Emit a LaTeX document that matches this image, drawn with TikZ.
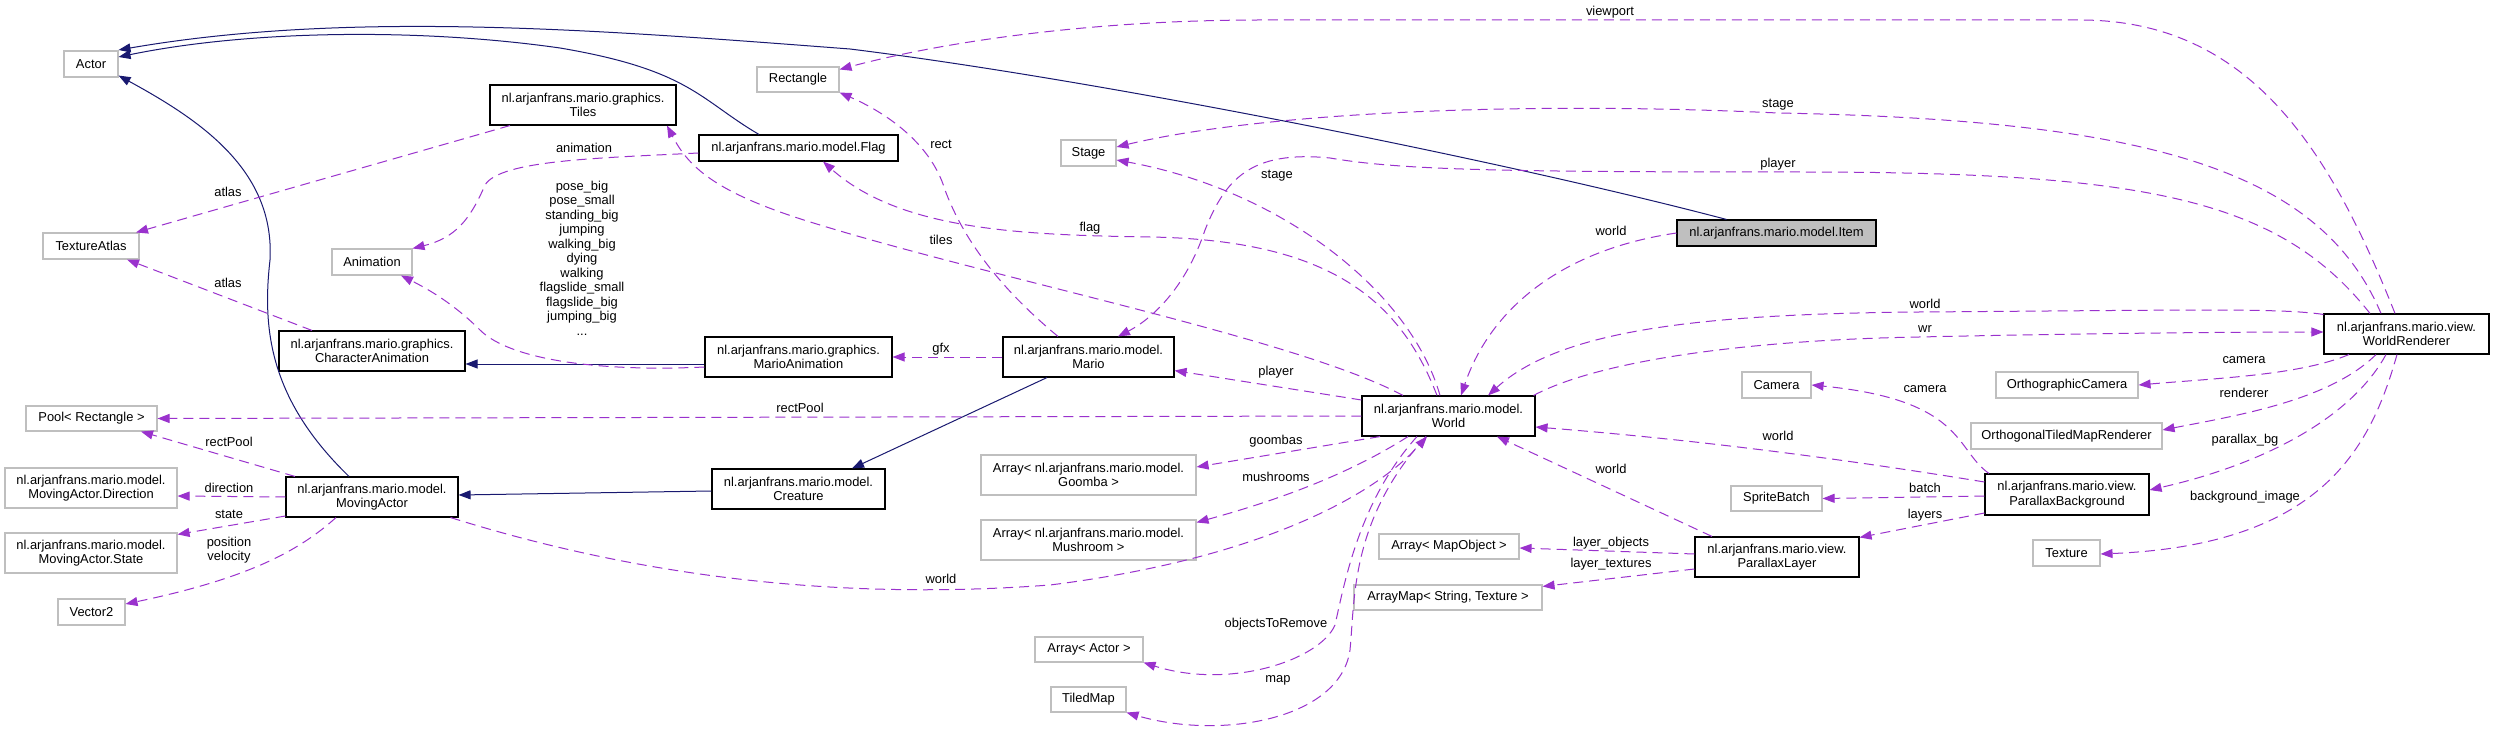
\documentclass[tikz,border=0pt]{standalone}
\usepackage{fontspec}
\setmainfont{Liberation Sans}
\usetikzlibrary{arrows.meta}
\definecolor{dxnavy}{HTML}{191970}
\definecolor{dxpurp}{HTML}{9A32CD}
\definecolor{dxgrey}{HTML}{BFBFBF}
\newcommand\dxfont{\fontsize{12.9pt}{14.5pt}\selectfont}
\begin{document}
\begin{tikzpicture}[x=1pt,y=-1pt,
  box/.style={draw=black, line width=1.1pt, fill=white, inner sep=0pt, align=center, font=\dxfont},
  gbox/.style={box, draw=dxgrey},
  inh/.style={draw=dxnavy, line width=1pt, -{Triangle[length=12pt,width=9pt]}},
  use/.style={draw=dxpurp, line width=1pt, dash pattern=on 10pt off 6pt, -{Triangle[length=12pt,width=9pt]}},
  elab/.style={font=\dxfont, inner sep=0pt, align=center}]
\useasboundingbox[fill=white] (0,0) rectangle (2493,730);

% ---------- nodes ----------
\node[gbox, minimum width=54pt, minimum height=26pt] (actor) at (91,64) {Actor};
\node[gbox, minimum width=82pt, minimum height=25pt] (rect) at (798,79.5) {Rectangle};
\node[box, minimum width=186pt, minimum height=40pt] (tiles) at (583,105) {nl.arjanfrans.mario.graphics.\\Tiles};
\node[box, minimum width=199pt, minimum height=26pt] (flag) at (798.5,148) {nl.arjanfrans.mario.model.Flag};
\node[gbox, minimum width=55pt, minimum height=26pt] (stage) at (1088.5,153) {Stage};
\node[gbox, minimum width=96pt, minimum height=26pt] (atlas) at (91,246) {TextureAtlas};
\node[gbox, minimum width=80pt, minimum height=26pt] (anim) at (372,262) {Animation};
\node[box, fill=dxgrey, minimum width=199pt, minimum height=26pt] (item) at (1776.5,233) {nl.arjanfrans.mario.model.Item};
\node[box, minimum width=186pt, minimum height=40pt] (chara) at (372,351) {nl.arjanfrans.mario.graphics.\\CharacterAnimation};
\node[box, minimum width=187pt, minimum height=40pt] (marioa) at (798.5,357) {nl.arjanfrans.mario.graphics.\\MarioAnimation};
\node[box, minimum width=171pt, minimum height=40pt] (mario) at (1088.5,357) {nl.arjanfrans.mario.model.\\Mario};
\node[box, minimum width=165pt, minimum height=40pt] (wr) at (2406.5,334) {nl.arjanfrans.mario.view.\\WorldRenderer};
\node[box, minimum width=173pt, minimum height=40pt] (world) at (1448.5,416) {nl.arjanfrans.mario.model.\\World};
\node[gbox, minimum width=131pt, minimum height=25pt] (pool) at (91.5,418.5) {Pool< Rectangle >};
\node[gbox, minimum width=69pt, minimum height=26pt] (camera) at (1776.5,385) {Camera};
\node[gbox, minimum width=142pt, minimum height=26pt] (ocam) at (2067,385) {OrthographicCamera};
\node[gbox, minimum width=191pt, minimum height=26pt] (otmr) at (2066.5,436) {OrthogonalTiledMapRenderer};
\node[box, minimum width=173pt, minimum height=40pt] (creature) at (798.5,489) {nl.arjanfrans.mario.model.\\Creature};
\node[box, minimum width=172pt, minimum height=40pt] (mact) at (372,497) {nl.arjanfrans.mario.model.\\MovingActor};
\node[gbox, minimum width=215pt, minimum height=40pt] (goomba) at (1088.5,475) {Array< nl.arjanfrans.mario.model.\\Goomba >};
\node[gbox, minimum width=215pt, minimum height=40pt] (mush) at (1088.5,540) {Array< nl.arjanfrans.mario.model.\\Mushroom >};
\node[gbox, minimum width=172pt, minimum height=40pt] (dir) at (91,488) {nl.arjanfrans.mario.model.\\MovingActor.Direction};
\node[gbox, minimum width=172pt, minimum height=40pt] (state) at (91,553) {nl.arjanfrans.mario.model.\\MovingActor.State};
\node[gbox, minimum width=67pt, minimum height=26pt] (vec) at (91.5,612) {Vector2};
\node[gbox, minimum width=91pt, minimum height=25pt] (batch) at (1776.5,498.5) {SpriteBatch};
\node[box, minimum width=164pt, minimum height=41pt] (pbg) at (2067,494.5) {nl.arjanfrans.mario.view.\\ParallaxBackground};
\node[gbox, minimum width=67pt, minimum height=26pt] (tex) at (2066.5,553) {Texture};
\node[gbox, minimum width=140pt, minimum height=25pt] (amo) at (1449,546.5) {Array< MapObject >};
\node[gbox, minimum width=188pt, minimum height=25pt] (amap) at (1448,597.5) {ArrayMap< String, Texture >};
\node[box, minimum width=164pt, minimum height=40pt] (play) at (1777,557) {nl.arjanfrans.mario.view.\\ParallaxLayer};
\node[gbox, minimum width=108pt, minimum height=25pt] (aact) at (1089,649.5) {Array< Actor >};
\node[gbox, minimum width=75pt, minimum height=25pt] (tmap) at (1088.5,699.5) {TiledMap};

% ---------- inheritance ----------
\draw[inh] ([xshift=-50pt]item.north) .. controls (1500,160) and (1100,80) .. (850,49)
  .. controls (600,30) and (350,10) .. ([yshift=14pt]actor.east);
\draw[inh] ([xshift=-39.5pt]flag.north) .. controls (700,100) and (690,70) .. (560,48)
  .. controls (420,28) and (250,30) .. ([yshift=7pt]actor.east);
\draw[inh] ([xshift=-23pt]mact.north) .. controls (270,400) and (262,330) .. (270,260)
  .. controls (275,170) and (200,120) .. ([yshift=2pt]actor.south east);
\draw[inh] ([yshift=-7pt]marioa.west) -- ([yshift=-13pt]chara.east);
\draw[inh] ([xshift=-41.5pt]mario.south) -- ([xshift=53.5pt]creature.north);
\draw[inh] ([yshift=-2pt]creature.west) -- ([yshift=2pt]mact.east);

% ---------- usage ----------
\draw[use] ([xshift=-73pt]tiles.south) -- ([xshift=45pt]atlas.north);
\draw[use] ([xshift=-60pt]chara.north) -- ([xshift=36pt]atlas.south);
\draw[use] ([yshift=-5pt]flag.west) .. controls (600,158) and (500,160) .. (485,185)
  .. controls (470,220) and (455,238) .. (anim.north east);
\draw[use] ([yshift=-10pt]marioa.west) .. controls (600,372) and (510,360) .. (480,330)
  .. controls (455,305) and (430,290) .. ([xshift=29pt]anim.south);
\draw[use] (mario.west) -- (marioa.east);
\draw[use] ([xshift=-30.5pt]mario.north) .. controls (990,280) and (960,230) .. (945,190)
  .. controls (930,140) and (880,110) .. (rect.south east);
\draw[use] ([xshift=-45.5pt]world.north) .. controls (1300,340) and (1000,280) .. (820,225)
  .. controls (720,195) and (690,170) .. ([xshift=84pt]tiles.south);
\draw[use] ([xshift=-11.5pt]world.north) .. controls (1400,300) and (1330,240) .. (1150,237)
  .. controls (1020,235) and (900,230) .. ([xshift=24.5pt]flag.south);
\draw[use] ([xshift=-8.5pt]world.north) .. controls (1410,290) and (1280,190) .. ([yshift=-7pt]stage.east);
\draw[use] ([yshift=16pt]world.west) -- ([yshift=7pt]mario.south east);
\draw[use] (world.west) -- (pool.east);
\draw[use] ([xshift=-68.5pt]world.south) -- ([yshift=8pt]goomba.east);
\draw[use] ([xshift=-40.5pt]world.south) .. controls (1340,480) and (1260,505) .. ([yshift=-3pt]mush.north east);
\draw[use] ([xshift=-8pt]mact.south east) .. controls (650,580) and (850,600) .. (1050,585)
  .. controls (1250,560) and (1370,500) .. ([xshift=-21.5pt]world.south);
\draw[use] ([xshift=-31.5pt]world.south) .. controls (1360,500) and (1345,580) .. (1335,625)
  .. controls (1320,660) and (1230,690) .. (aact.south east);
\draw[use] ([xshift=-22.5pt]world.south) .. controls (1350,520) and (1355,600) .. (1350,650)
  .. controls (1340,720) and (1220,740) .. (tmap.south east);
\draw[use] (item.west) .. controls (1560,250) and (1490,310) .. ([xshift=12.5pt]world.north);
\draw[use] ([yshift=-1pt]wr.north west) .. controls (2280,308) and (2200,310) .. (1919,312)
  .. controls (1700,314) and (1560,330) .. ([xshift=39.5pt]world.north);
\draw[use] ([xshift=-2pt]world.north east) .. controls (1600,360) and (1750,340) .. (1919,337)
  .. controls (2100,333) and (2250,332) .. ([yshift=2pt]wr.west);
\draw[use] ([xshift=-25.5pt]wr.north) .. controls (2320,170) and (2150,120) .. (1778,113)
  .. controls (1500,100) and (1250,115) .. ([yshift=6pt]stage.east);
\draw[use] ([xshift=-36.5pt]wr.north) .. controls (2280,200) and (2150,172) .. (1800,172)
  .. controls (1500,172) and (1400,170) .. (1330,158)
  .. controls (1250,150) and (1225,180) .. (1205,230)
  .. controls (1185,290) and (1150,320) .. ([xshift=29.5pt]mario.north);
\draw[use] ([xshift=-11.5pt]wr.north) .. controls (2330,150) and (2250,20) .. (2080,20)
  -- (1260,20) .. controls (1100,20) and (950,40) .. ([yshift=-3pt]rect.north east);
\draw[use] ([xshift=-57.5pt]wr.south) .. controls (2300,375) and (2220,378) .. (ocam.east);
\draw[use] ([xshift=-30.5pt]wr.south) .. controls (2330,400) and (2240,415) .. ([yshift=6pt]otmr.east);
\draw[use] ([xshift=-20.5pt]wr.south) .. controls (2350,420) and (2260,465) .. ([yshift=4.5pt]pbg.east);
\draw[use] ([xshift=-9.5pt]wr.south) .. controls (2370,450) and (2320,545) .. ([yshift=-1pt]tex.east);
\draw[use] ([xshift=-78pt]pbg.north) .. controls (1955,450) and (1965,400) .. (camera.east);
\draw[use] ([yshift=-1.5pt]pbg.west) -- (batch.east);
\draw[use] ([yshift=-18.5pt]pbg.west) -- ([yshift=-1pt]play.north east);
\draw[use] ([xshift=-65pt]play.north) -- ([xshift=48.5pt]world.south);
\draw[use] ([yshift=12.5pt]pbg.west) .. controls (1850,460) and (1700,440) .. ([yshift=-11pt]world.east);
\draw[use] ([yshift=3pt]play.west) -- ([yshift=-1.5pt]amo.east);
\draw[use] ([yshift=-12pt]play.west) -- ([yshift=-2pt]amap.north east);
% MovingActor members
\draw[use] ([xshift=-77pt]mact.north) -- ([xshift=49.5pt]pool.south);
\draw[use] (mact.west) -- ([yshift=-8pt]dir.east);
\draw[use] ([yshift=-19pt]mact.west) -- ([yshift=-2pt]state.north east);
\draw[use] ([xshift=-36pt]mact.south) .. controls (300,550) and (250,578) .. ([yshift=8pt]vec.east);

% ---------- edge labels ----------
\node[elab] (l1) at (228,192) {atlas};
\node[elab] (l2) at (228,283) {atlas};
\node[elab] (l3) at (584,148) {animation};
\node[elab] (l4) at (582,258) {pose\_big\\pose\_small\\standing\_big\\jumping\\walking\_big\\dying\\walking\\flagslide\_small\\flagslide\_big\\jumping\_big\\...};
\node[elab] (l5) at (800,408) {rectPool};
\node[elab] (l6) at (229,442) {rectPool};
\node[elab] (l7) at (229,488) {direction};
\node[elab] (l8) at (229,514) {state};
\node[elab] (l9) at (229,550) {position\\velocity};
\node[elab] (l10) at (941,579) {world};
\node[elab] (l11) at (1610,12) {viewport};
\node[elab] (l12) at (941,144) {rect};
\node[elab] (l13) at (1277,176) {stage};
\node[elab] (l14) at (1090,228) {flag};
\node[elab] (l15) at (941,240) {tiles};
\node[elab] (l16) at (1611,231) {world};
\node[elab] (l17) at (941,349) {gfx};
\node[elab] (l18) at (1276,372) {player};
\node[elab] (l19) at (1276,441) {goombas};
\node[elab] (l20) at (1276,477) {mushrooms};
\node[elab] (l21) at (1611,543) {layer\_objects};
\node[elab] (l22) at (1611,564) {layer\_textures};
\node[elab] (l23) at (1276,624) {objectsToRemove};
\node[elab] (l24) at (1278,680) {map};
\node[elab] (l25) at (1611,469) {world};
\node[elab] (l26) at (1778,105) {stage};
\node[elab] (l27) at (1778,164) {player};
\node[elab] (l28) at (1925,304) {world};
\node[elab] (l29) at (1925,329) {wr};
\node[elab] (l30) at (2244,360) {camera};
\node[elab] (l31) at (1925,389) {camera};
\node[elab] (l32) at (1778,436) {world};
\node[elab] (l33) at (2244,393) {renderer};
\node[elab] (l34) at (2245,440) {parallax\_bg};
\node[elab] (l35) at (1925,488) {batch};
\node[elab] (l36) at (1925,515) {layers};
\node[elab] (l37) at (2245,497) {background\_image};
\end{tikzpicture}
\end{document}
